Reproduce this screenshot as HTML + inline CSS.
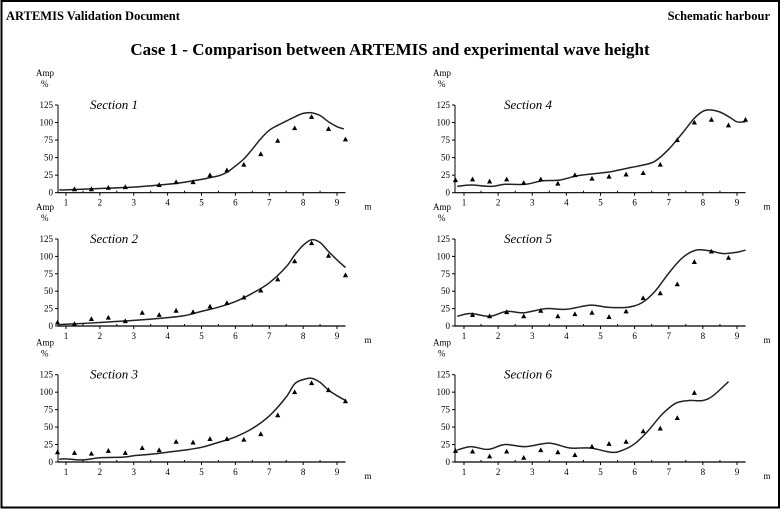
<!DOCTYPE html>
<html><head><meta charset="utf-8"><style>
html,body{margin:0;padding:0;background:#fff;}
svg{display:block;font-family:"Liberation Serif",serif;}
</style></head><body>
<svg id="c" width="781" height="510" viewBox="0 0 781 510">
<rect x="1.5" y="1" width="777.5" height="506.5" fill="none" stroke="#000" stroke-width="2"/>
<text x="6" y="20" font-size="12.5" font-weight="bold">ARTEMIS Validation Document</text>
<text x="770" y="20" font-size="12.5" font-weight="bold" text-anchor="end">Schematic harbour</text>
<text x="390" y="55" font-size="17" font-weight="bold" text-anchor="middle">Case 1 - Comparison between ARTEMIS and experimental wave height</text>
</svg>
<script>
const sectionNames=["Section 1","Section 2","Section 3","Section 4","Section 5","Section 6"];
const xTicks=[1,2,3,4,5,6,7,8,9];
const yTicks=[0,25,50,75,100,125];
const pts1X=[1.25,1.75,2.25,2.75,3.75,4.25,4.75,5.25,5.75,6.25,6.75,7.25,7.75,8.25,8.75,9.25];
const pts1Y=[5,5,7,8,11,15,15,25,32,40,55,74,92,108,91,76];
const line1X=[0.8,1,2,3,4,4.5,5,5.5,5.75,6,6.25,6.5,6.75,7,7.25,7.5,7.75,8,8.25,8.5,8.75,9,9.2];
const line1Y=[4,4,6,8,12,15,19,24,29,38,48,62,77,89,96,102,108,113,114,110,101,94,91];
const pts2X=[0.75,1.25,1.75,2.25,2.75,3.25,3.75,4.25,4.75,5.25,5.75,6.25,6.75,7.25,7.75,8.25,8.75,9.25];
const pts2Y=[5,3,10,12,7,19,16,22,20,28,33,41,51,67,93,119,101,73];
const line2X=[0.8,1,2,3,4,4.5,5,5.5,6,6.5,7,7.5,7.75,8,8.25,8.5,8.75,9,9.25];
const line2Y=[2,2.5,5,8,12,15,21,27,35,47,62,85,102,116,124,120,107,95,84];
const pts3X=[0.75,1.25,1.75,2.25,2.75,3.25,3.75,4.25,4.75,5.25,5.75,6.25,6.75,7.25,7.75,8.25,8.75,9.25];
const pts3Y=[14,13,12,16,13,20,17,29,28,33,33,32,40,67,100,113,103,87];
const line3X=[0.8,1,1.5,2,2.7,3,3.5,4,4.5,5,5.5,6,6.5,7,7.5,7.75,8,8.25,8.5,8.75,9,9.25];
const line3Y=[4,4.5,3,6,7,9,11,14,17,21,28,36,48,66,93,112,118,120,114,103,95,88];
const pts4X=[0.75,1.25,1.75,2.25,2.75,3.25,3.75,4.25,4.75,5.25,5.75,6.25,6.75,7.25,7.75,8.25,8.75,9.25];
const pts4Y=[18,19,16,19,14,19,13,25,20,23,26,28,40,75,100,104,96,104];
const line4X=[0.8,1.2,1.8,2.2,2.8,3.3,3.8,4.3,4.8,5.3,5.8,6.3,6.6,7,7.4,7.75,8,8.2,8.5,8.8,9,9.25];
const line4Y=[9,11,9,12,12,17,18,24,27,30,35,40,45,62,85,106,116,118,115,107,101,101];
const pts5X=[1.25,1.75,2.25,2.75,3.25,3.75,4.25,4.75,5.25,5.75,6.25,6.75,7.25,7.75,8.25,8.75];
const pts5Y=[16,14,20,14,22,14,17,19,13,21,40,47,60,92,107,98];
const line5X=[0.8,1.2,1.75,2.25,2.75,3.4,4,4.7,5.2,5.8,6.2,6.6,7,7.4,7.8,8.2,8.6,9,9.25];
const line5Y=[14,18,14,21,19,25,24,30,27,27,33,50,76,98,109,108,104,106,109];
const pts6X=[0.75,1.25,1.75,2.25,2.75,3.25,3.75,4.25,4.75,5.25,5.75,6.25,6.75,7.25,7.75];
const pts6Y=[16,15,8,15,6,17,14,10,22,26,29,44,48,63,99];
const line6X=[0.8,1.2,1.7,2.2,2.8,3.5,4.1,4.7,5.3,5.6,6,6.4,6.8,7.2,7.6,8,8.3,8.75];
const line6Y=[17,22,18,25,22,27,20,20,14,16,26,45,68,84,88,88,95,115];

const ptsX=[pts1X,pts2X,pts3X,pts4X,pts5X,pts6X];
const ptsY=[pts1Y,pts2Y,pts3Y,pts4Y,pts5Y,pts6Y];
const lineX=[line1X,line2X,line3X,line4X,line5X,line6X];
const lineY=[line1Y,line2Y,line3Y,line4Y,line5Y,line6Y];

const NS="http://www.w3.org/2000/svg";
const svg=document.getElementById('c');
function mk(tag,attrs,parent){const e=document.createElementNS(NS,tag);for(const k in attrs)e.setAttribute(k,attrs[k]);(parent||svg).appendChild(e);return e;}

// panel layout: [axisX, x1px, x9px, y0px, y125px]
const layout=[[58,66,337,192.7,105],[58,66,337,326,239],[58,66,337,462,374.7],
              [455,464,737,192.7,105],[455,464,737,326,239],[455,464,737,462,374.7]];

function smoothPath(p){
  let d="M"+p[0][0].toFixed(1)+","+p[0][1].toFixed(1);
  for(let i=0;i<p.length-1;i++){
    const p0=p[Math.max(0,i-1)],p1=p[i],p2=p[i+1],p3=p[Math.min(p.length-1,i+2)];
    const c1=[p1[0]+(p2[0]-p0[0])/6,p1[1]+(p2[1]-p0[1])/6];
    const c2=[p2[0]-(p3[0]-p1[0])/6,p2[1]-(p3[1]-p1[1])/6];
    d+=" C"+c1[0].toFixed(1)+","+c1[1].toFixed(1)+" "+c2[0].toFixed(1)+","+c2[1].toFixed(1)+" "+p2[0].toFixed(1)+","+p2[1].toFixed(1);
  }
  return d;
}

layout.forEach((L,k)=>{
  const [ax,x1,x9,y0,y125]=L;
  const sx=v=>x1+(v-1)*(x9-x1)/8;
  const sy=v=>y0-(v/125)*(y0-y125);
  const xEnd=sx(9.25);
  const g=mk('g',{});
  
  
  const a1=mk('text',{x:ax-22,y:y125-29,'font-size':9},g);a1.textContent="Amp";
  
  
  const a2=mk('text',{x:ax-17,y:y125-18,'font-size':9},g);a2.textContent="%";
  
  
  const st=mk('text',{x:ax+(k<3?32:49),y:y125+4,'font-size':13,'font-style':'italic'},g);st.textContent=sectionNames[k];
  
  
  const yl=mk('line',{x1:ax,y1:y125,x2:ax,y2:y0,stroke:'#000','stroke-width':1},g);
  
  
  const xl=mk('line',{x1:ax,y1:y0,x2:xEnd,y2:y0,stroke:'#000','stroke-width':1.2},g);
  
  
  yTicks.forEach(t=>{
    const tk=mk('line',{x1:ax-3,y1:sy(t),x2:ax,y2:sy(t),stroke:'#000'},g);
    
    
    const tl=mk('text',{x:ax-5,y:sy(t)+3,'font-size':9,'text-anchor':'end'},g);tl.textContent=t;
    
    
  });
  for(let v=1;v<=9.01;v+=0.5){
    const tk=mk('line',{x1:sx(v),y1:y0,x2:sx(v),y2:y0+(v%1===0?3:-2),stroke:'#000'},g);
    
    
  }
  xTicks.forEach(t=>{
    const tl=mk('text',{x:sx(t),y:y0+13,'font-size':9,'text-anchor':'middle'},g);tl.textContent=t;
    
    
  });
  const m=mk('text',{x:k<3?368:767,y:y0+17,'font-size':9,'text-anchor':'middle'},g);m.textContent="m";
  
  
  const p=lineX[k].map((v,i)=>[sx(v),sy(lineY[k][i])]);
  const path=mk('path',{d:smoothPath(p),fill:'none',stroke:'#222','stroke-width':1.5},g);
  
  
  ptsX[k].forEach((v,i)=>{
    const x=sx(v),y=sy(ptsY[k][i]);
    const tr=mk('polygon',{points:(x-2.6)+","+(y+2)+" "+(x+2.6)+","+(y+2)+" "+x+","+(y-2.8),fill:'#000'},g);
    
    
  });
});
</script>
</body></html>
